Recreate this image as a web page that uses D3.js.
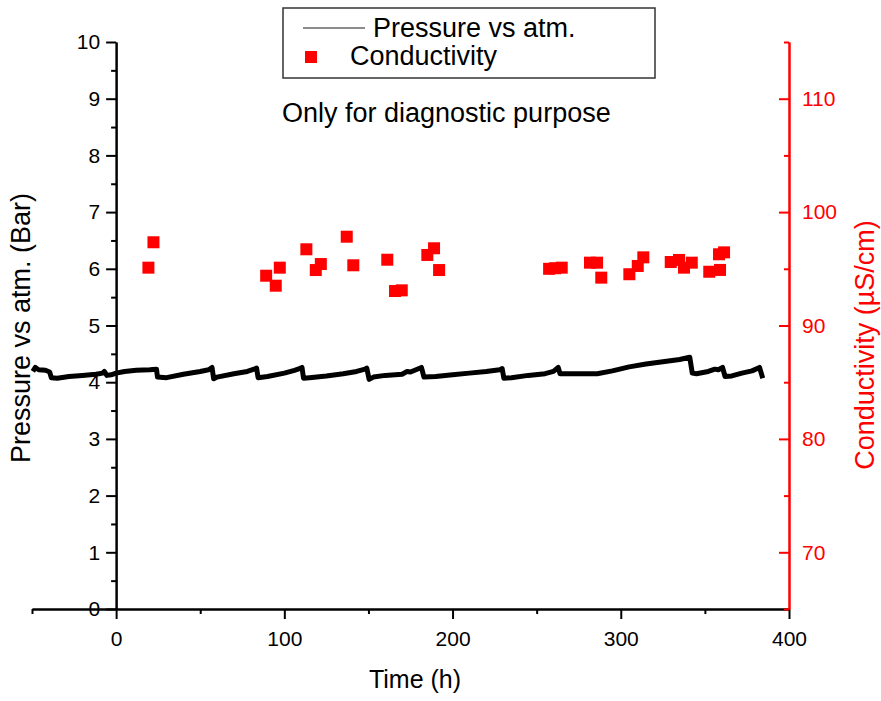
<!DOCTYPE html>
<html>
<head>
<meta charset="utf-8">
<script src="https://cdn.jsdelivr.net/npm/d3@7"></script>
<style>
  body { margin: 0; background: #fff; }
  svg text { font-family: "Liberation Sans", Arial, sans-serif; }
</style>
</head>
<body>
<div id="chart"></div>
<script>
// Pressure trace (time in h, pressure in bar)
var pressureTime = [-49.5, -48, -46, -42, -39.5, -38.5, -35, -28, -20, -12, -8, -7, -5.5, -3, 0, 5, 12, 20, 24,
  24.6, 30, 40, 50, 55, 57, 58, 60, 70, 78, 82, 83.5, 84.4, 90, 100, 106, 109, 110.5, 111.4, 115, 125, 135, 143,
  148, 149, 150.4, 153, 160, 170, 173, 175, 181.5, 183, 190, 200, 210, 220, 228, 229.5, 230.5, 235, 245, 255,
  260, 262.8, 263.9, 270, 280, 286, 295, 305, 315, 325, 335, 341, 342.5, 345, 352, 356, 358, 360.5, 362, 366,
  372, 378, 382.5, 384.4];
var pressureValue = [4.19, 4.26, 4.22, 4.21, 4.18, 4.08, 4.07, 4.10, 4.12, 4.14, 4.16, 4.19, 4.12, 4.13, 4.16, 4.19, 4.21, 4.22, 4.23,
  4.09, 4.08, 4.14, 4.19, 4.22, 4.26, 4.06, 4.09, 4.15, 4.19, 4.23, 4.25, 4.08, 4.10, 4.16, 4.21, 4.24, 4.26, 4.07, 4.08, 4.11, 4.15, 4.19,
  4.23, 4.25, 4.05, 4.09, 4.12, 4.14, 4.19, 4.18, 4.26, 4.09, 4.10, 4.13, 4.16, 4.19, 4.22, 4.24, 4.07, 4.08, 4.12, 4.15,
  4.19, 4.26, 4.15, 4.15, 4.15, 4.15, 4.20, 4.27, 4.32, 4.36, 4.40, 4.44, 4.16, 4.15, 4.19, 4.23, 4.22, 4.26, 4.10, 4.11,
  4.16, 4.20, 4.26, 4.07];

// Conductivity samples (time in h, conductivity in µS/cm)
var condTime = [19.2, 22.2, 89.2, 94.9, 97.3, 113.1, 118.7, 121.7, 137.1, 141.0, 161.2, 165.8, 169.8, 185.0, 189.0, 192.0,
  257.4, 261.0, 264.9, 281.7, 285.9, 288.4, 305.1, 310.1, 313.4, 329.7, 334.6, 337.6, 342.2, 352.6, 359.0, 358.4, 361.4];
var condValue = [95.10, 97.34, 94.39, 93.51, 95.10, 96.72, 94.89, 95.42, 97.83, 95.31, 95.80, 93.04, 93.10, 96.22, 96.81, 94.89,
  95.00, 95.05, 95.10, 95.54, 95.54, 94.22, 94.52, 95.25, 96.01, 95.60, 95.78, 95.10, 95.54, 94.74, 94.90, 96.28, 96.45];

// Axis ticks
var timeTicks = [0, 100, 200, 300, 400];
var timeMinor = [-50, 50, 150, 250, 350];
var pressureTicks = [0, 1, 2, 3, 4, 5, 6, 7, 8, 9, 10];
var pressureMinor = [0.5, 1.5, 2.5, 3.5, 4.5, 5.5, 6.5, 7.5, 8.5, 9.5];
var condTicks = [70, 80, 90, 100, 110];
var condMinor = [65, 75, 85, 95, 105, 115];

var w = 881, h = 701;
var red = "#ff0000";

var x = d3.scaleLinear().domain([-50, 400]).range([32, 789]);
var yP = d3.scaleLinear().domain([0, 10]).range([609, 42]);
var yC = d3.scaleLinear().domain([65, 115]).range([609, 42]);

var svg = d3.select("#chart").append("svg")
  .attr("width", w)
  .attr("height", h);

function styleAxis(g, color, size) {
  g.select(".domain").attr("stroke", color).attr("stroke-width", 2);
  g.selectAll(".tick line").attr("stroke", color).attr("stroke-width", 2);
  g.selectAll(".tick text").attr("fill", color).attr("font-size", size)
    .attr("font-family", "'Liberation Sans', Arial, sans-serif");
}

// Bottom axis
svg.append("g")
  .attr("transform", "translate(0,609)")
  .call(d3.axisBottom(x).tickValues(timeMinor).tickSize(5).tickSizeOuter(0).tickFormat(""))
  .call(g => styleAxis(g, "#000", 21));
svg.append("g")
  .attr("transform", "translate(0,609)")
  .call(d3.axisBottom(x).tickValues(timeTicks).tickSize(10).tickSizeOuter(0).tickPadding(12))
  .call(g => styleAxis(g, "#000", 21));

// Left axis at t = 0
svg.append("g")
  .attr("transform", "translate(" + x(0) + ",0)")
  .call(d3.axisLeft(yP).tickValues(pressureMinor).tickSize(5).tickSizeOuter(0).tickFormat(""))
  .call(g => styleAxis(g, "#000", 21));
svg.append("g")
  .attr("transform", "translate(" + x(0) + ",0)")
  .call(d3.axisLeft(yP).tickValues(pressureTicks).tickSize(10).tickSizeOuter(0).tickPadding(6))
  .call(g => styleAxis(g, "#000", 21));

// Right axis, red, ticks pointing inward
svg.append("g")
  .attr("transform", "translate(" + x(400) + ",0)")
  .call(d3.axisRight(yC).tickValues(condMinor).tickSize(-5).tickSizeOuter(0).tickFormat(""))
  .call(g => styleAxis(g, red, 21));
svg.append("g")
  .attr("transform", "translate(" + x(400) + ",0)")
  .call(d3.axisRight(yC).tickValues(condTicks).tickSize(-10).tickSizeOuter(0).tickPadding(13))
  .call(g => styleAxis(g, red, 21));

// Pressure line
var line = d3.line()
  .x((d, i) => x(pressureTime[i]))
  .y(d => yP(d));

svg.append("path")
  .datum(pressureValue)
  .attr("d", line)
  .attr("fill", "none")
  .attr("stroke", "#000")
  .attr("stroke-width", 5)
  .attr("stroke-linejoin", "round");

// Conductivity squares
var sq = 12;
svg.append("g")
  .selectAll("rect")
  .data(condValue)
  .join("rect")
  .attr("x", (d, i) => x(condTime[i]) - sq / 2)
  .attr("y", d => yC(d) - sq / 2)
  .attr("width", sq)
  .attr("height", sq)
  .attr("fill", red);

// Axis titles
svg.append("text")
  .attr("x", 415)
  .attr("y", 688)
  .attr("text-anchor", "middle")
  .attr("font-size", 25)
  .text("Time (h)");

svg.append("text")
  .attr("transform", "translate(30,328) rotate(-90)")
  .attr("text-anchor", "middle")
  .attr("font-size", 27)
  .text("Pressure vs atm. (Bar)");

svg.append("text")
  .attr("transform", "translate(874,345) rotate(-90)")
  .attr("text-anchor", "middle")
  .attr("font-size", 27)
  .attr("fill", red)
  .text("Conductivity (µS/cm)");

// Annotation
svg.append("text")
  .attr("x", 282)
  .attr("y", 122)
  .attr("font-size", 27)
  .text("Only for diagnostic purpose");

// Legend
var legend = svg.append("g");
legend.append("rect")
  .attr("x", 283)
  .attr("y", 8)
  .attr("width", 372)
  .attr("height", 70)
  .attr("fill", "#fff")
  .attr("stroke", "#333")
  .attr("stroke-width", 1.5);
legend.append("line")
  .attr("x1", 303).attr("x2", 365)
  .attr("y1", 28).attr("y2", 28)
  .attr("stroke", "#666")
  .attr("stroke-width", 1.5);
legend.append("text")
  .attr("x", 373)
  .attr("y", 37)
  .attr("font-size", 27)
  .text("Pressure vs atm.");
legend.append("rect")
  .attr("x", 305).attr("y", 51)
  .attr("width", sq).attr("height", sq)
  .attr("fill", red);
legend.append("text")
  .attr("x", 350)
  .attr("y", 65)
  .attr("font-size", 27)
  .text("Conductivity");
</script>
</body>
</html>
